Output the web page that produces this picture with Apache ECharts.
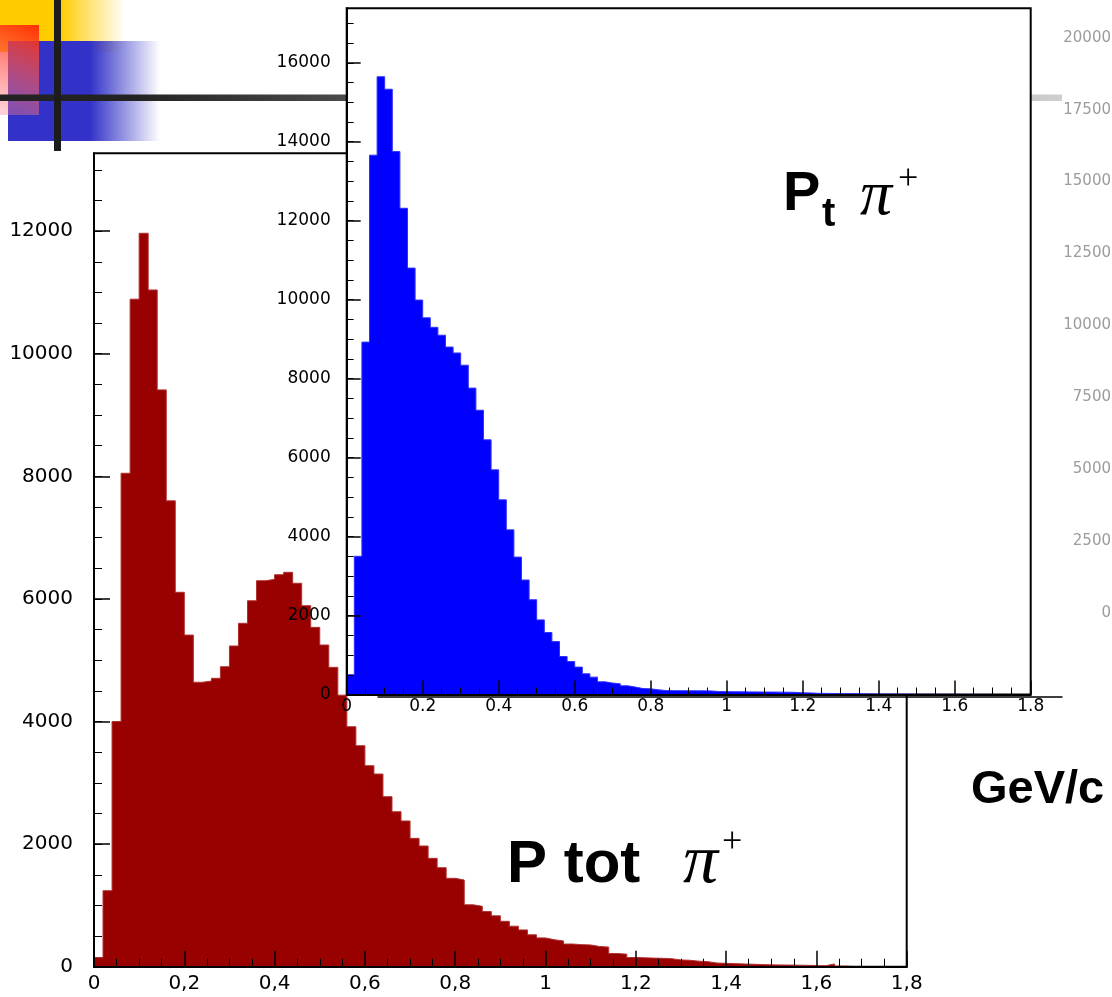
<!DOCTYPE html>
<html>
<head>
<meta charset="utf-8">
<title>P tot / Pt pi+</title>
<script src="https://cdn.jsdelivr.net/npm/echarts@6/dist/echarts.min.js"></script>
<style>
html, body { margin: 0; padding: 0; background: #fff; }
#main { width: 1112px; height: 997px; }
</style>
</head>
<body>
<div id="main"></div>
<script>
// histogram bins: 0.02 GeV/c wide, 0 .. 1.8
var binWidth = 0.02;

// P tot pi+ (dark red)
var redCounts = [150, 1240, 4000, 8050, 10890, 11965, 11040, 9410, 7600, 6108,
	5410, 4640, 4660, 4705, 4894, 5232, 5602, 5970, 6297, 6319,
	6395, 6434, 6255, 5890, 5536, 5248, 4884, 4430, 3915, 3605,
	3279, 3143, 2773, 2528, 2377, 2094, 1969, 1768, 1615, 1442,
	1414, 1010, 985, 900, 830, 740, 660, 600, 520, 470,
	440, 420, 370, 360, 355, 330, 320, 215, 205, 150,
	145, 140, 137, 130, 110, 105, 90, 82, 60, 55,
	50, 45, 40, 35, 30, 28, 27, 25, 22, 20,
	15, 45, 10, 5, 0, 0, 0, 0, 0, 0];

// Pt pi+ (blue)
var blueCounts = [500, 3500, 8925, 13660, 15646, 15330, 13750, 12315, 10800, 9990,
	9540, 9300, 9100, 8800, 8650, 8340, 7760, 7200, 6450, 5690,
	4930, 4170, 3480, 2900, 2400, 1890, 1570, 1340, 962, 835,
	694, 524, 440, 321, 290, 271, 220, 187, 150, 144,
	119, 100, 98, 96, 94, 94, 92, 90, 75, 72,
	70, 68, 66, 64, 62, 62, 60, 58, 55, 43,
	40, 30, 28, 25, 22, 20, 18, 16, 15, 14,
	12, 10, 9, 8, 7, 6, 5, 5, 4, 4,
	3, 3, 2, 2, 2, 1, 1, 1, 0, 0];

// axis ranges
var xMax = 1.8;
var redYMax = 13270;
var blueYMax = 17380;
var greyYMax = 20000;

// [bin low edge, count] + closing point so the last bin gets its width
function toSteps(counts) {
	var pts = [];
	for (var i = 0; i < counts.length; i++) {
		pts.push([Math.round(i * binWidth * 100) / 100, counts[i]]);
	}
	pts.push([xMax, counts[counts.length - 1]]);
	return pts;
}

var axisFont = 'DejaVu Sans';

function fmtComma(v) {
	var r = Math.round(v * 10) / 10;
	return String(r).replace('.', ',');
}
function fmtDot(v) {
	return String(Math.round(v * 10) / 10);
}
function fmtInt(v) {
	return String(Math.round(v));
}

var chart = echarts.init(document.getElementById('main'));

// slide decoration behind the plots
var decoration = [
	{ type: 'rect', z: 1, shape: { x: 0, y: 0, width: 125, height: 52 },
		style: { fill: new echarts.graphic.LinearGradient(0, 0, 1, 0, [
			{ offset: 0, color: '#ffcc00' }, { offset: 0.48, color: '#ffcc00' }, { offset: 1, color: 'rgba(255,204,0,0)' }]) } },
	{ type: 'rect', z: 2, shape: { x: 8, y: 41, width: 152, height: 100 },
		style: { fill: new echarts.graphic.LinearGradient(0, 0, 1, 0, [
			{ offset: 0, color: '#3232c8' }, { offset: 0.54, color: '#3232c8' }, { offset: 1, color: 'rgba(50,50,200,0)' }]) } },
	{ type: 'rect', z: 3, shape: { x: 0, y: 25, width: 39, height: 90 },
		style: { fill: new echarts.graphic.LinearGradient(1, 0, 0, 1, [
			{ offset: 0, color: 'rgba(255,40,0,0.95)' }, { offset: 1, color: 'rgba(255,130,150,0.35)' }]) } },
	{ type: 'rect', z: 4, shape: { x: 0, y: 94.5, width: 1062, height: 6.5 },
		style: { fill: new echarts.graphic.LinearGradient(0, 0, 1, 0, [
			{ offset: 0, color: '#222222' }, { offset: 0.12, color: '#222222' }, { offset: 1, color: '#cfcfcf' }]) } },
	{ type: 'rect', z: 5, shape: { x: 54, y: 0, width: 7, height: 151 }, style: { fill: '#1c1c1c' } }
];

// labels on the plots
var labels = [
	{ type: 'text', z: 30, x: 507, y: 865, style: { text: 'P tot', fill: '#000', font: 'bold 60px "Liberation Sans"', verticalAlign: 'middle' } },
	{ type: 'text', z: 30, x: 683, y: 864, style: { text: 'π', fill: '#000', font: 'italic 70px "Liberation Serif"', verticalAlign: 'middle' } },
	{ type: 'text', z: 30, x: 722, y: 843, style: { text: '+', fill: '#000', font: '36px "Liberation Serif"', verticalAlign: 'middle' } },
	{ type: 'text', z: 30, x: 783, y: 195, style: { text: 'P', fill: '#000', font: 'bold 56px "Liberation Sans"', verticalAlign: 'middle' } },
	{ type: 'text', z: 30, x: 822, y: 215, style: { text: 't', fill: '#000', font: 'bold 40px "Liberation Sans"', verticalAlign: 'middle' } },
	{ type: 'text', z: 30, x: 860, y: 197, style: { text: 'π', fill: '#000', font: 'italic 64px "Liberation Serif"', verticalAlign: 'middle' } },
	{ type: 'text', z: 30, x: 898, y: 180, style: { text: '+', fill: '#000', font: '36px "Liberation Serif"', verticalAlign: 'middle' } },
	{ type: 'text', z: 30, x: 971, y: 790, style: { text: 'GeV/c', fill: '#000', font: 'bold 47px "Liberation Sans"', verticalAlign: 'middle' } }
];

var option = {
	animation: false,
	backgroundColor: '#fff',
	graphic: { elements: decoration.concat(labels) },
	grid: [
		// P tot
		{ left: 94, top: 153.3, width: 812.7, height: 813.4, show: true, backgroundColor: 'transparent',
			borderColor: '#000', borderWidth: 2, z: 0, outerBoundsMode: 'none', containLabel: false },
		// Pt, sits on top
		{ left: 346.7, top: 8.3, width: 684, height: 686.2, show: true, backgroundColor: '#fff',
			borderColor: '#000', borderWidth: 2, z: 10, outerBoundsMode: 'none', containLabel: false },
		// third plot hidden behind, only its scale shows
		{ left: 378, top: 37.8, width: 684, height: 575.2, show: false, z: 1, outerBoundsMode: 'none', containLabel: false }
	],
	xAxis: [
		{
			type: 'value', gridIndex: 0, min: 0, max: xMax, interval: 0.2, position: 'bottom', z: 3,
			axisLine: { show: true, onZero: false, lineStyle: { color: '#000', width: 2 } },
			axisTick: { show: true, inside: true, length: 16, lineStyle: { color: '#000', width: 1.5 } },
			minorTick: { show: true, splitNumber: 4, length: 8, lineStyle: { color: '#000', width: 1 } },
			axisLabel: { color: '#000', fontFamily: axisFont, fontSize: 20, margin: 7, formatter: fmtComma },
			splitLine: { show: false }
		},
		{
			type: 'value', gridIndex: 1, min: 0, max: xMax, interval: 0.2, position: 'bottom', z: 12,
			axisLine: { show: true, onZero: false, lineStyle: { color: '#000', width: 2 } },
			axisTick: { show: true, inside: true, length: 14, lineStyle: { color: '#000', width: 1.5 } },
			minorTick: { show: true, splitNumber: 4, length: 7, lineStyle: { color: '#000', width: 1 } },
			axisLabel: { color: '#000', fontFamily: axisFont, fontSize: 17, margin: 4, formatter: fmtDot },
			splitLine: { show: false }
		},
		{
			type: 'value', gridIndex: 2, min: 0, max: 1, position: 'bottom', offset: 84, z: 1,
			axisLine: { show: true, onZero: false, lineStyle: { color: '#000', width: 1.5 } },
			axisTick: { show: false }, axisLabel: { show: false }, splitLine: { show: false }
		}
	],
	yAxis: [
		{
			type: 'value', gridIndex: 0, min: 0, max: redYMax, interval: 2000, position: 'left', z: 3,
			axisLine: { show: true, onZero: false, lineStyle: { color: '#000', width: 2 } },
			axisTick: { show: true, inside: true, length: 16, lineStyle: { color: '#000', width: 1.5 } },
			axisLabel: { color: '#000', fontFamily: axisFont, fontSize: 20, margin: 21, showMaxLabel: false, formatter: fmtInt },
			splitLine: { show: false }
		},
		{
			type: 'value', gridIndex: 0, min: 0, max: redYMax, interval: 500, position: 'left', z: 3,
			axisLine: { show: false },
			axisTick: { show: true, inside: true, length: 8, lineStyle: { color: '#000', width: 1 } },
			axisLabel: { show: false }, splitLine: { show: false }
		},
		{
			type: 'value', gridIndex: 1, min: 0, max: blueYMax, interval: 2000, position: 'left', z: 12,
			axisLine: { show: true, onZero: false, lineStyle: { color: '#000', width: 2 } },
			axisTick: { show: true, inside: true, length: 14, lineStyle: { color: '#000', width: 1.5 } },
			axisLabel: { color: '#000', fontFamily: axisFont, fontSize: 17, margin: 16, showMaxLabel: false, formatter: fmtInt },
			splitLine: { show: false }
		},
		{
			type: 'value', gridIndex: 1, min: 0, max: blueYMax, interval: 500, position: 'left', z: 12,
			axisLine: { show: false },
			axisTick: { show: true, inside: true, length: 7, lineStyle: { color: '#000', width: 1 } },
			axisLabel: { show: false }, splitLine: { show: false }
		},
		{
			type: 'value', gridIndex: 2, min: 0, max: greyYMax, interval: 2500, position: 'right', z: 1,
			axisLine: { show: false }, axisTick: { show: false },
			axisLabel: { color: '#9c9c9c', fontFamily: axisFont, fontSize: 15, margin: 49, align: 'right', formatter: fmtInt },
			splitLine: { show: false }
		}
	],
	series: [
		{
			name: 'P tot', type: 'line', step: 'end', xAxisIndex: 0, yAxisIndex: 0, data: toSteps(redCounts),
			symbol: 'none', z: 2, silent: true,
			lineStyle: { color: '#b03030', width: 1 },
			areaStyle: { color: '#990000', opacity: 1 }
		},
		{
			name: 'Pt', type: 'line', step: 'end', xAxisIndex: 1, yAxisIndex: 2, data: toSteps(blueCounts),
			symbol: 'none', z: 11, silent: true,
			lineStyle: { color: '#3030ff', width: 1 },
			areaStyle: { color: '#0000ff', opacity: 1 }
		}
	]
};

chart.setOption(option);
window.addEventListener('resize', function () {
	chart.resize();
});
</script>
</body>
</html>
